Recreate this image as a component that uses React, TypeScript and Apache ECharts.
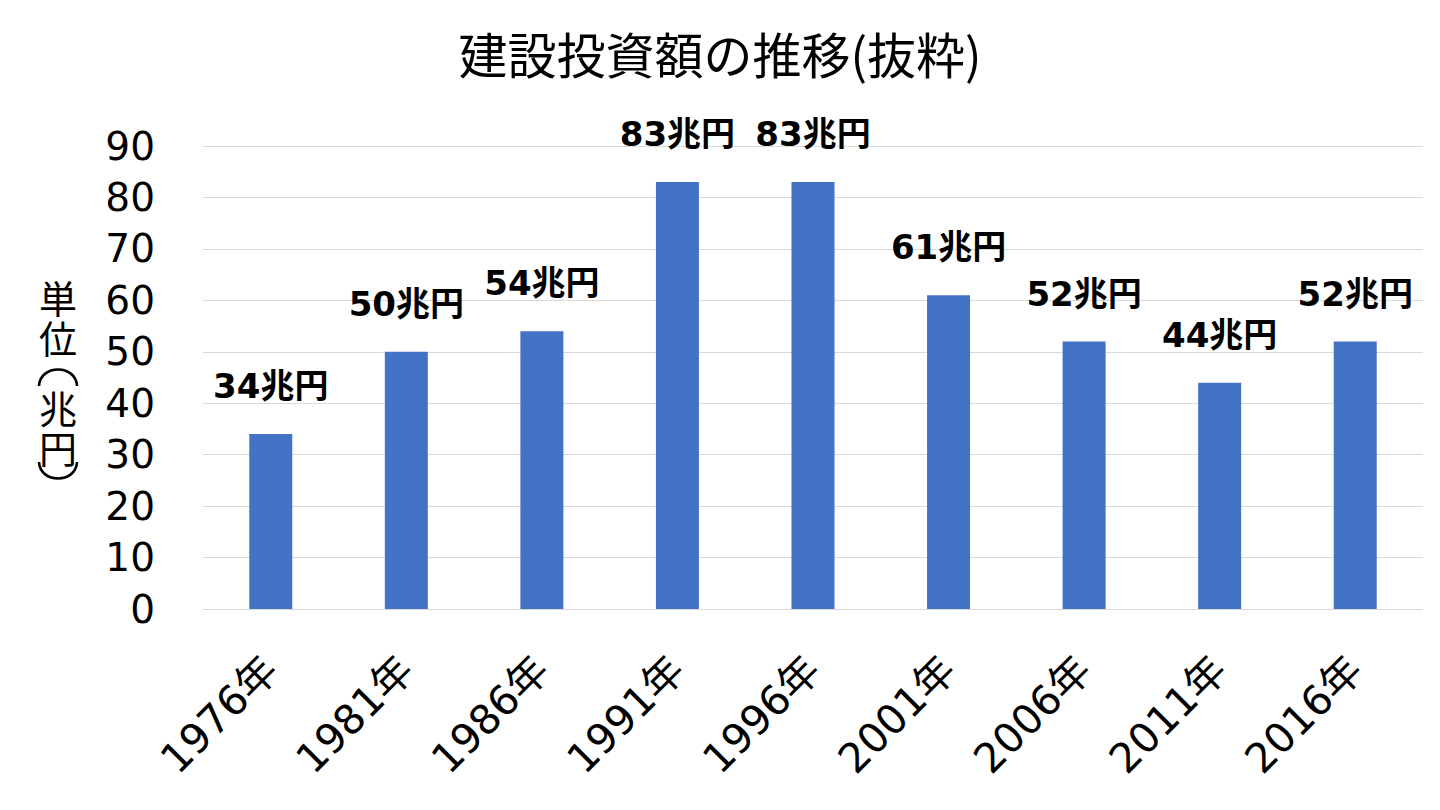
import React, { useEffect, useRef } from "react";
import * as echarts from "echarts";

const categories = ["1976年", "1981年", "1986年", "1991年", "1996年", "2001年", "2006年", "2011年", "2016年"];
const values = [34, 50, 54, 83, 83, 61, 52, 44, 52];
const titleText = "建設投資額の推移(抜粋)";
const yNameParts = ["単\n位", "兆\n円"];
const FONT = "'DejaVu Sans', 'Noto Sans CJK JP', sans-serif";
const CJK = "'Noto Sans CJK JP', sans-serif";

export default function App() {
  const ref = useRef<HTMLDivElement>(null);
  useEffect(() => {
    if (!ref.current) return;
    const chart = echarts.init(ref.current, null, { renderer: "svg" });
    const partYs = [316, 426];
    const nameGraphics: any[] = yNameParts.map((txt, i) => ({
      type: "text",
      x: 58,
      y: partYs[i],
      style: {
        text: txt,
        align: "center",
        verticalAlign: "middle",
        fontFamily: CJK,
        fontSize: 38,
        lineHeight: 40,
        fill: "#000",
      },
    }));
    // vertical parentheses of the axis name
    nameGraphics.push({
      type: "bezierCurve",
      shape: { x1: 39, y1: 386, x2: 77, y2: 386, cpx1: 40, cpy1: 364, cpx2: 76, cpy2: 364 },
      style: { stroke: "#000", lineWidth: 2.6, fill: null },
    });
    nameGraphics.push({
      type: "bezierCurve",
      shape: { x1: 39, y1: 462, x2: 77, y2: 462, cpx1: 40, cpy1: 484, cpx2: 76, cpy2: 484 },
      style: { stroke: "#000", lineWidth: 2.6, fill: null },
    });
    chart.setOption({
      animation: false,
      backgroundColor: "#ffffff",
      title: {
        text: titleText,
        left: "center",
        top: 23,
        textStyle: { fontFamily: CJK, fontSize: 49, fontWeight: "normal", color: "#000" },
      },
      grid: { left: 203, right: 17, top: 146, bottom: 201 },
      xAxis: {
        type: "category",
        data: categories,
        axisLine: { show: false },
        axisTick: { show: false },
        axisLabel: {
          rotate: 45,
          margin: 54,
          fontFamily: FONT,
          fontSize: 41,
          color: "#000",
          interval: 0,
        },
      },
      yAxis: {
        type: "value",
        min: 0,
        max: 90,
        interval: 10,
        axisLine: { show: false },
        axisTick: { show: false },
        splitLine: { lineStyle: { color: "#d9d9d9", width: 1 } },
        axisLabel: { fontFamily: FONT, fontSize: 39, color: "#000", margin: 48 },
      },
      graphic: nameGraphics,
      series: [
        {
          type: "bar",
          data: values,
          barWidth: 43,
          itemStyle: { color: "#4472C4" },
          label: {
            show: true,
            position: "top",
            distance: 31,
            formatter: "{c}兆円",
            fontFamily: FONT,
            fontSize: 34,
            fontWeight: "bold",
            color: "#000",
          },
        },
      ],
    });
    return () => chart.dispose();
  }, []);
  return <div ref={ref} style={{ width: 1440, height: 810, position: "absolute", left: 0, top: 0 }} />;
}
